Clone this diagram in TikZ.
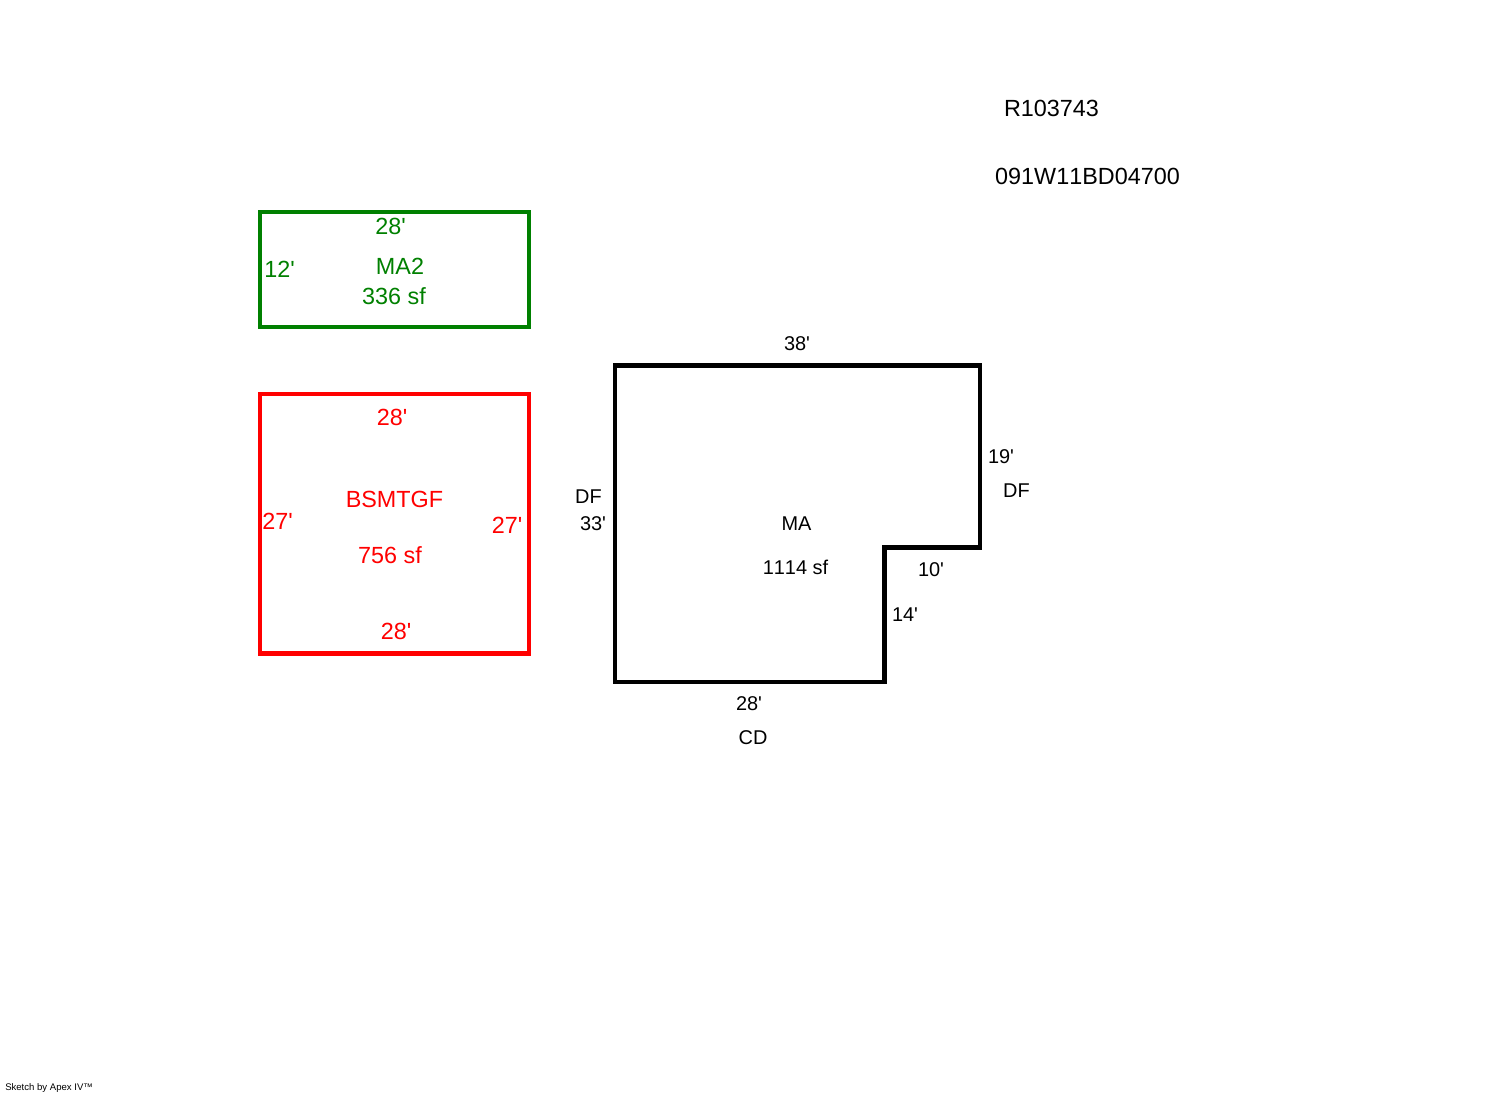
\documentclass[tikz,border=0pt]{standalone}
\usepackage{fontspec}
\setmainfont[Kerning=Off]{Liberation Sans}
\newcommand{\ft}{\textquotesingle}
\tikzset{x=0.0264583cm,y=-0.0264583cm,
 room/.style={line width=4.2*0.75pt,miter limit=10},
 lbl/.style={inner sep=0pt,font=\fontsize{17.6}{18}\selectfont},
 lbs/.style={inner sep=0pt,font=\fontsize{15}{15}\selectfont}}
\definecolor{grn}{RGB}{0,128,0}
\begin{document}
\begin{tikzpicture}
\useasboundingbox (0,0) rectangle (1492,1094);
\node[lbl] (id1) at (1051.5,108.5) {R103743};
\node[lbl] (id2) at (1087.5,176) {091W11BD04700};
\draw[room,grn] (260,212) rectangle (529,327);
\begin{scope}[every node/.style={lbl,text=grn}]
\node (g1) at (390.5,226) {28\ft};
\node (g2) at (279.5,269) {12\ft};
\node (g3) at (400,266) {MA2};
\node (g4) at (394,296) {336 sf};
\end{scope}
\draw[room,red] (260,394) rectangle (529,653.5);
\begin{scope}[every node/.style={lbl,text=red}]
\node (r1) at (392,417) {28\ft};
\node (r2) at (277.5,521) {27\ft};
\node (r3) at (507,525) {27\ft};
\node (r4) at (394.5,499) {BSMTGF};
\node (r5) at (390,555) {756 sf};
\node (r6) at (396,631) {28\ft};
\end{scope}
\draw[room] (615,365.5) -- (980,365.5) -- (980,547.5) -- (884.5,547.5) -- (884.5,682) -- (615,682) -- cycle;
\begin{scope}[every node/.style={lbs}]
\node (m1) at (797,344) {38\ft};
\node (m2) at (1001,457) {19\ft};
\node (m3) at (1016.5,491) {DF};
\node (m4) at (588.5,497) {DF};
\node (m5) at (593,524) {33\ft};
\node (m6) at (796.5,524) {MA};
\node (m7) at (795.5,567) {1114 sf};
\node (m8) at (931,570) {10\ft};
\node (m9) at (905,615) {14\ft};
\node (m10) at (749,704) {28\ft};
\node (m11) at (753,738) {CD};
\end{scope}
\node[inner sep=0pt,anchor=west,font=\fontsize{7.2}{7.2}\selectfont] (f) at (5,1088) {Sketch by Apex IV™};
\end{tikzpicture}
\end{document}
